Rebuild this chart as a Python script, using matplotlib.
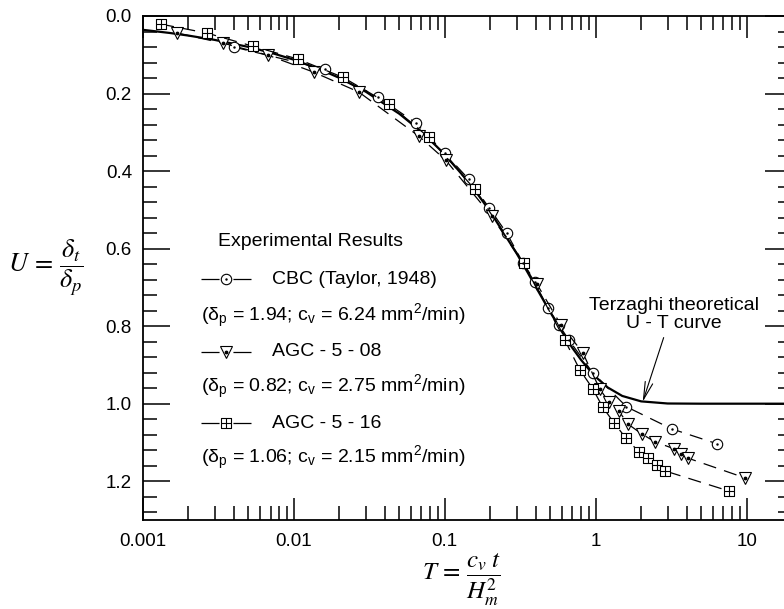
import numpy as np
import matplotlib
matplotlib.use('Agg')
import matplotlib.pyplot as plt
from matplotlib.path import Path
from matplotlib.ticker import MultipleLocator, LogLocator, NullFormatter, FormatStrFormatter

plt.rcParams['font.family'] = ['Liberation Sans', 'DejaVu Sans']
plt.rcParams['mathtext.fontset'] = 'custom'
plt.rcParams['mathtext.rm'] = 'Liberation Sans'
plt.rcParams['mathtext.it'] = 'Liberation Sans:italic'
plt.rcParams['lines.scale_dashes'] = False

# Terzaghi theoretical U - T curve (tabulated values)
T_theory = [0.001, 0.0015, 0.002, 0.003, 0.005, 0.007, 0.01, 0.015, 0.02, 0.03,
            0.05, 0.07, 0.1, 0.15, 0.2, 0.25, 0.3, 0.35, 0.4, 0.5, 0.6, 0.7,
            0.8, 0.9, 1.0, 1.2, 1.5, 2.0, 3.0, 5.0, 20.0]
U_theory = [0.0357, 0.0437, 0.0505, 0.0618, 0.0798, 0.0944, 0.1128, 0.1382, 0.1596, 0.1954,
            0.2523, 0.2985, 0.3568, 0.4370, 0.5046, 0.5642, 0.6130, 0.6580, 0.6980, 0.7640, 0.8155, 0.8560,
            0.8870, 0.9110, 0.9310, 0.9580, 0.9800, 0.9940, 0.9995, 1.0, 1.0]

# CBC (Taylor, 1948)
T_cbc = [0.0040, 0.0160, 0.0360, 0.0643, 0.100, 0.144, 0.196, 0.258, 0.329, 0.394,
         0.481, 0.569, 0.662, 0.955, 1.60, 3.19, 6.33]
U_cbc = [0.080, 0.137, 0.209, 0.276, 0.354, 0.421, 0.494, 0.561, 0.636, 0.687,
         0.752, 0.796, 0.835, 0.920, 1.008, 1.065, 1.103]

# AGC - 5 - 08
T_a08 = [0.00168, 0.00339, 0.00673, 0.01356, 0.0269, 0.0673, 0.1016, 0.205, 0.406, 0.586,
         0.820, 1.06, 1.22, 1.42, 1.63, 2.02, 2.46, 3.29, 3.66, 4.06, 9.70]
U_a08 = [0.044, 0.070, 0.101, 0.145, 0.196, 0.310, 0.372, 0.517, 0.690, 0.796,
         0.868, 0.961, 0.995, 1.018, 1.052, 1.078, 1.098, 1.116, 1.129, 1.140, 1.191]

# AGC - 5 - 16
T_a16 = [0.001316, 0.00265, 0.00535, 0.01062, 0.0211, 0.0426, 0.0783, 0.158, 0.334, 0.623,
         0.783, 0.955, 1.11, 1.32, 1.58, 1.93, 2.21, 2.53, 2.86, 7.60]
U_a16 = [0.021, 0.044, 0.078, 0.111, 0.158, 0.227, 0.313, 0.447, 0.638, 0.835,
         0.912, 0.961, 1.008, 1.049, 1.088, 1.124, 1.140, 1.158, 1.173, 1.225]

names = ['CBC (Taylor, 1948)', 'AGC - 5 - 08', 'AGC - 5 - 16']
params = [r'(δ$_\mathregular{p}$ = 1.94; c$_\mathregular{v}$ = 6.24 mm$^\mathregular{2}$/min)',
          r'(δ$_\mathregular{p}$ = 0.82; c$_\mathregular{v}$ = 2.75 mm$^\mathregular{2}$/min)',
          r'(δ$_\mathregular{p}$ = 1.06; c$_\mathregular{v}$ = 2.15 mm$^\mathregular{2}$/min)']

xticks = [0.001, 0.01, 0.1, 1, 10]
xticklabels = ['0.001', '0.01', '0.1', '1', '10']

# square with a cross (grid square)
grid_sq = Path([(-1, -1), (1, -1), (1, 1), (-1, 1), (-1, -1), (0, -1), (0, 1), (-1, 0), (1, 0)],
               [Path.MOVETO, Path.LINETO, Path.LINETO, Path.LINETO, Path.CLOSEPOLY,
                Path.MOVETO, Path.LINETO, Path.MOVETO, Path.LINETO])

fig = plt.figure(figsize=(7.84, 6.09), dpi=100)
ax = fig.add_axes([143/784, 89/609, 649/784, 504/609])

ax.plot(T_theory, U_theory, color='black', lw=1.6, zorder=2)

dash = (0, (9.5, 6))
mk = dict(color='black', lw=0.9, ls=dash, mfc='white', mec='black', mew=0.8, zorder=3)
ax.plot(T_cbc, U_cbc, marker='o', ms=7.5, **mk)
ax.plot(T_cbc, U_cbc, ls='none', marker='.', ms=1.5, color='black', zorder=4)
ax.plot(T_a08, U_a08, marker='v', ms=8, **mk)
ax.plot(T_a08, U_a08, ls='none', marker='.', ms=3.5, color='black', zorder=4)
ax.plot(T_a16, U_a16, marker=grid_sq, ms=7, **mk)

ax.set_xscale('log')
ax.set_xlim(0.001, 20)
ax.set_ylim(1.3, 0.0)
ax.set_xticks(xticks)
ax.set_xticklabels(xticklabels)
ax.xaxis.set_minor_locator(LogLocator(base=10, subs=np.arange(2, 10)))
ax.xaxis.set_minor_formatter(NullFormatter())
ax.yaxis.set_major_locator(MultipleLocator(0.2))
ax.yaxis.set_minor_locator(MultipleLocator(0.04))
ax.yaxis.set_major_formatter(FormatStrFormatter('%.1f'))

ax.tick_params(which='both', direction='in', top=True, right=True, width=1.1,
               labelsize=13.5, color='black')
ax.tick_params(axis='y', which='major', length=19.5, pad=8)
ax.tick_params(axis='y', which='minor', length=10)
ax.tick_params(axis='x', which='major', length=16, pad=9)
ax.tick_params(axis='x', which='minor', length=10)
for s in ax.spines.values():
    s.set_linewidth(1.3)

ax.set_xlabel(r'$T\,=\,\dfrac{c_v\;t}{H_m^2}$', fontsize=18, math_fontfamily='stix')
ax.xaxis.set_label_coords(0.49, -0.118)
ax.xaxis.label.set_va('center')
ax.set_ylabel(r'$U\,=\,\dfrac{\delta_t}{\delta_p}$', fontsize=19, math_fontfamily='stix',
              rotation=0, ha='center', va='center')
ax.yaxis.set_label_coords(-0.15, 0.5)

# legend drawn by hand
tr = ax.transAxes
ax.text(0.116, 0.552, 'Experimental Results', transform=tr, fontsize=14, va='center')
rows = [279, 352, 423]
prow = [316, 387, 458]
markers = [('o', 7.5, 1.5), ('v', 8, 3.5), (grid_sq, 7, 0)]
for i in range(3):
    yf = (520 - rows[i]) / 504
    x0, x1, xm = (201 - 143) / 649, (251 - 143) / 649, (226 - 143) / 649
    ax.plot([x0, x1], [yf, yf], transform=tr, color='black', lw=0.9,
            ls=(0, (13, 10)), clip_on=False)
    m, ms, dot = markers[i]
    ax.plot([xm], [yf], transform=tr, ls='none', marker=m, ms=ms, mfc='white',
            mec='black', mew=0.8)
    if dot:
        ax.plot([xm], [yf], transform=tr, ls='none', marker='.', ms=dot, color='black')
    ax.text((272 - 143) / 649, yf, names[i], transform=tr, fontsize=14, va='center')
    ax.text((201 - 143) / 649, (520 - prow[i]) / 504, params[i], transform=tr,
            fontsize=14, va='center')

ax.annotate('Terzaghi theoretical\nU - T curve', xy=(2.05, 0.995), xytext=(3.3, 0.77),
            fontsize=14, ha='center', va='center', linespacing=1.1,
            arrowprops=dict(arrowstyle='->,head_length=0.9,head_width=0.2', color='black',
                            lw=0.8, shrinkA=2, shrinkB=0, relpos=(0.45, 0.0)))

fig.savefig('out.png', dpi=100)
